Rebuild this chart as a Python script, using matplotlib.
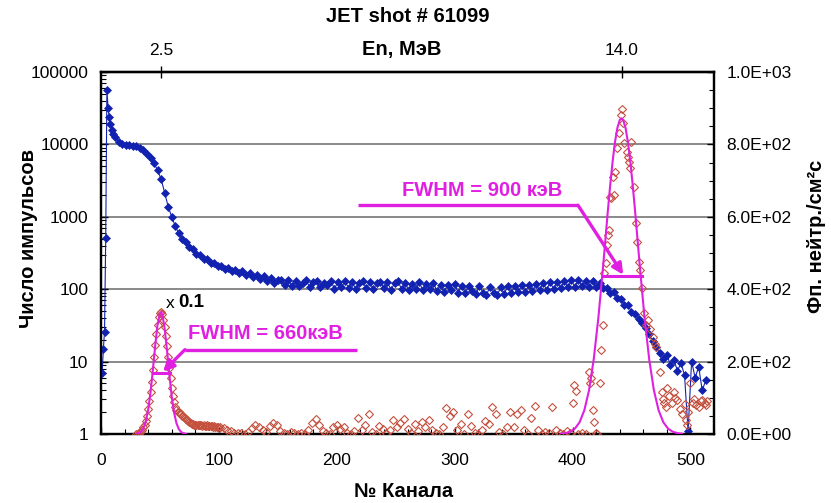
import numpy as np
import matplotlib
matplotlib.use("Agg")
import matplotlib.pyplot as plt
from matplotlib.ticker import FixedLocator, MultipleLocator, NullFormatter, LogLocator
from matplotlib.patches import FancyArrowPatch

plt.rcParams['font.family'] = ['Liberation Sans', 'DejaVu Sans']

# ---------------- data ----------------
# pulse-height spectrum (counts per channel), left log axis
blue_head_ch = [1, 2, 3, 4, 5, 6, 7, 8, 9, 10]
blue_head_val = [7, 15, 26, 510, 57000, 32000, 24000, 19000, 16000, 14000]

blue_body_start = 12
blue_body_step = 3
blue_body_val = [
    # ch 12-39
    12500, 10900, 10200, 9900, 9700, 9600, 9400, 9000, 8400, 7400,
    # ch 42-69
    6400, 5500, 4400, 3300, 2150, 1380, 1000, 740, 590, 500,
    # ch 72-99
    445, 385, 360, 310, 300, 258, 258, 228, 232, 208,
    # ch 102-129
    212, 190, 198, 178, 186, 166, 178, 157, 165, 148,
    # ch 132-150
    156, 139, 150, 130, 141, 122, 133,
    # ch 153-180
    136, 114, 132, 110, 130, 112, 121, 132, 108, 124,
    # ch 183-210
    128, 106, 123, 113, 130, 102, 125, 108, 128, 104,
    # ch 213-240
    126, 101, 122, 130, 104, 124, 100, 121, 127, 103,
    # ch 243-270
    124, 98, 120, 128, 100, 122, 97, 119, 102, 125,
    # ch 273-300
    96, 118, 100, 122, 94, 116, 92, 114, 96, 118,
    # ch 303-330
    90, 112, 89, 111, 95, 86, 110, 90, 84, 108,
    # ch 333-360
    88, 82, 106, 86, 110, 88, 112, 91, 114, 92,
    # ch 363-390
    115, 94, 118, 97, 121, 99, 124, 101, 127, 104,
    # ch 393-420
    130, 106, 132, 108, 134, 110, 131, 108, 128, 106,
    # ch 423-450
    122, 104, 103, 90, 92, 76, 74, 60, 60, 49,
    # ch 453-480
    45, 39, 34, 29, 24, 19, 16, 13, 11, 12.5,
    # ch 483-510
    9, 10.5, 7.5, 9.5, 6.5, 1.1, 10, 6, 8.5, 4,
    # ch 513
    5.5,
]

# neutron flux spectrum, right linear axis
red_left_start = 30
red_left_val = [
    0, 1, 3, 5, 8, 12, 18, 26, 36, 50,            # ch 30-39
    68, 90, 115, 145, 178, 212, 245, 275, 302, 322,  # ch 40-49
    335, 338, 332, 316, 296, 270, 242, 212, 182, 155,  # ch 50-59
    128, 106, 88, 75, 66, 62, 60, 57, 54, 50,     # ch 60-69
    47, 44, 42, 40, 37, 34, 31, 29, 27, 26,       # ch 70-79
    25, 24, 25, 26, 24, 25, 23, 24, 22, 23,       # ch 80-89
    24, 22, 23, 21, 22, 20, 21, 19, 18, 19,       # ch 90-99
    17,                                           # ch 100
]

red_mid_start = 101
red_mid_step = 3
red_mid_val = [
    18, 17, 12, 8, 4, 2, 3, 1, 6, 16,        # ch 101-128
    24, 20, 12, 6, 22, 30, 24, 8, 3, 0,      # ch 131-158
    5, 2, 0, 4, 1, 10, 30, 42, 25, 8,        # ch 161-188
    2, 0, 18, 25, 14, 20, 3, 0, 8, 44,       # ch 191-218
    12, 26, 55, 5, 0, 22, 14, 2, 10, 38,     # ch 221-248
    18, 30, 42, 15, 3, 28, 8, 34, 20, 40,    # ch 251-278
    12, 2, 0, 18, 72, 50, 62, 10, 28, 0,     # ch 281-308
    55, 22, 4, 0, 12, 36, 28, 75, 55, 6,     # ch 311-338
    0, 20, 62, 18, 55, 66, 12, 0, 45, 76,    # ch 341-368
    10, 0, 5, 2, 74, 12, 3, 0, 8, 2,         # ch 371-398
]

red_right_ch = [400, 401, 403, 405, 408, 411, 414, 415, 416, 417, 418, 420, 421,
                423, 424, 426, 427, 428, 429, 430, 431, 432, 433, 434, 435, 436,
                438, 439, 441, 442, 443, 444, 446, 447, 448, 449, 450, 452, 454,
                455, 456, 457, 459, 461, 462, 464, 466, 468, 470, 471, 474, 476,
                477, 478, 479, 480, 482, 484, 486, 487, 489, 491, 493, 495, 496,
                497, 498, 500, 502, 503, 505, 507, 509, 510, 512, 513, 514]
red_right_val = [87, 134, 120, 0, 4, 0, 170, 140, 156, 65, 32, 2, 0,
                 140, 231, 300, 445, 472, 521, 549, 563, 656, 651, 710, 660, 724,
                 790, 831, 881, 897, 860, 803, 780, 766, 752, 734, 807, 683, 582,
                 531, 475, 452, 402, 334, 300, 314, 290, 268, 250, 240, 171, 116,
                 98, 86, 74, 126, 105, 87, 117, 100, 93, 70, 55, 84, 40,
                 24, 60, 140, 85, 98, 80, 74, 90, 93, 85, 79, 92]

# fitted peak profiles (flux units)
fit_25_ch = [30, 32, 34, 36, 38, 40, 42, 44, 46, 48, 50, 51, 52, 54, 56, 58,
             60, 62, 64, 66, 68, 70, 72]
fit_25_val = [0.5, 2.5, 6.7, 16, 34.5, 66.7, 115, 177, 245, 302, 334, 337, 330,
              292, 231, 164, 104, 59, 30, 13.6, 5.5, 2, 0.6]
fit_14_ch = [390, 394, 398, 402, 406, 410, 414, 418, 422, 426, 428, 430, 432,
             434, 436, 438, 440, 441.5, 443, 445, 447, 449, 451, 453, 455, 457,
             461, 465, 469, 473, 477, 481, 485, 489, 493]
fit_14_val = [0.5, 2.4, 6.3, 14.9, 32.6, 65.6, 121, 207, 324, 466, 542, 618, 689,
              753, 806, 845, 867, 872, 867, 845, 806, 753, 689, 618, 542, 466,
              324, 207, 121, 65.6, 32.6, 14.9, 6.3, 2.4, 0.5]

# half-maximum widths (channel edges) of the two peaks
fwhm_25_edges = [44.4, 58.5]
fwhm_14_edges = [425.5, 458.5]
peak_25 = 337
peak_14 = 872

# energy calibration points for the top axis
cal_ch = [51, 442]
cal_mev = [2.5, 14.0]

count_ticks = [1, 10, 100, 1000, 10000, 100000]
count_labels = ['1', '10', '100', '1000', '10000', '100000']
flux_ticks = [0, 200, 400, 600, 800, 1000]
channel_ticks = [0, 100, 200, 300, 400, 500]

# ---------------- figure ----------------
BLUE = '#1222b0'
RED = '#c4503e'
MAG = '#e020e0'

fig = plt.figure(figsize=(8.31, 5.03), dpi=100)
ax = fig.add_axes([101 / 831, 1 - 434 / 503, 613 / 831, 362 / 503])

blue_ch = list(blue_head_ch) + list(blue_body_start + blue_body_step * np.arange(len(blue_body_val)))
blue_val = list(blue_head_val) + list(blue_body_val)

ax.set_yscale('log')
ax.set_xlim(0, 520)
ax.set_ylim(1, 1e5)
ax.plot(blue_ch, blue_val, color=BLUE, lw=0.8, marker='D', ms=4.4,
        mfc=BLUE, mec=BLUE, mew=0.5, zorder=3)

ax.yaxis.set_major_locator(FixedLocator(count_ticks))
ax.set_yticklabels(count_labels)
ax.yaxis.set_minor_locator(LogLocator(base=10, subs=np.arange(2, 10)))
ax.yaxis.set_minor_formatter(NullFormatter())
ax.xaxis.set_major_locator(FixedLocator(channel_ticks))
ax.xaxis.set_minor_locator(MultipleLocator(20))
ax.grid(axis='y', which='major', color='#808080', lw=1.3)
ax.set_axisbelow(True)
ax.tick_params(which='both', direction='in', labelsize=12.5, top=False, right=False)
ax.tick_params(which='major', length=5, width=1)
ax.tick_params(which='minor', length=3.5, width=0.8)
ax.tick_params(axis='y', pad=9)
ax.tick_params(axis='x', pad=14)
for s in ax.spines.values():
    s.set_linewidth(1.6)

ax.set_xlabel('№ Канала', fontsize=14.5, fontweight='bold')
ax.xaxis.set_label_coords(0.494, -0.160)
ax.xaxis.label.set_verticalalignment('center')
ax.set_ylabel('Число импульсов', fontsize=14.5, fontweight='bold')
ax.yaxis.set_label_coords(-0.119, 0.541)
ax.yaxis.label.set_verticalalignment('center')

# right axis: flux
axr = ax.twinx()
axr.set_ylim(0, 1000)
axr.yaxis.set_major_locator(FixedLocator(flux_ticks))
axr.set_yticklabels(['{:.1E}'.format(v) for v in flux_ticks])
axr.yaxis.set_minor_locator(MultipleLocator(50))
axr.tick_params(which='both', direction='in', labelsize=12.5, pad=9)
axr.tick_params(which='major', length=5, width=1)
axr.tick_params(which='minor', length=3.5, width=0.8)
for s in axr.spines.values():
    s.set_linewidth(1.6)
axr.set_ylabel('Фп. нейтр./см²c', fontsize=14.5, fontweight='bold', rotation=90)
axr.yaxis.set_label_coords(1.1675, 0.546)
axr.yaxis.label.set_verticalalignment('center')

red_ch = (list(red_left_start + np.arange(len(red_left_val)))
          + list(red_mid_start + red_mid_step * np.arange(len(red_mid_val)))
          + list(red_right_ch))
red_val = list(red_left_val) + list(red_mid_val) + list(red_right_val)
axr.plot(red_ch, red_val, ls='none', marker='D', ms=4.4, mfc='none', mec=RED, mew=0.8, zorder=3)

axr.plot(fit_25_ch, fit_25_val, color=MAG, lw=1.5, zorder=4)
axr.plot(fit_14_ch, fit_14_val, color=MAG, lw=1.5, zorder=4)
axr.plot(fwhm_25_edges, [peak_25 / 2] * 2, color=MAG, lw=2.2, zorder=5)
axr.plot(fwhm_14_edges, [peak_14 / 2] * 2, color=MAG, lw=2.2, zorder=5)

# FWHM annotations
axr.text(73.8, 278, 'FWHM = 660кэВ', color=MAG, fontsize=14.5, fontweight='bold',
         ha='left', va='center')
axr.plot([217, 71.2], [233, 233], color=MAG, lw=2.4, solid_capstyle='butt')
axr.add_patch(FancyArrowPatch((71.2, 233), (52.6, peak_25 / 2 + 4), arrowstyle='-|>',
                              mutation_scale=16, lw=2.4, color=MAG, shrinkA=0, shrinkB=0,
                              zorder=6))
axr.text(255.3, 674, 'FWHM = 900 кэВ', color=MAG, fontsize=14.5, fontweight='bold',
         ha='left', va='center')
axr.plot([218, 404.6], [632, 632], color=MAG, lw=2.4, solid_capstyle='butt')
axr.add_patch(FancyArrowPatch((404.6, 632), (443, peak_14 / 2 + 4), arrowstyle='-|>',
                              mutation_scale=16, lw=2.4, color=MAG, shrinkA=0, shrinkB=0,
                              zorder=6))

axr.text(55.1, 361, 'x', fontsize=12.5, ha='left', va='center')
axr.text(65.3, 363, '0.1', fontsize=13.5, fontweight='bold', ha='left', va='center')

# top axis: neutron energy
def ch_to_mev(c):
    return cal_mev[0] + (np.asarray(c) - cal_ch[0]) * (cal_mev[1] - cal_mev[0]) / (cal_ch[1] - cal_ch[0])


def mev_to_ch(e):
    return cal_ch[0] + (np.asarray(e) - cal_mev[0]) * (cal_ch[1] - cal_ch[0]) / (cal_mev[1] - cal_mev[0])


sec = ax.secondary_xaxis('top', functions=(ch_to_mev, mev_to_ch))
sec.xaxis.set_major_locator(FixedLocator(cal_mev))
sec.set_xticklabels(['{:.1f}'.format(v) for v in cal_mev])
sec.xaxis.set_minor_locator(FixedLocator([]))
sec.tick_params(direction='inout', length=8, width=1, labelsize=12.5, pad=6)
sec.spines['top'].set_linewidth(1.6)
sec.set_xlabel('En, МэВ', fontsize=14.5, fontweight='bold')
sec.xaxis.set_label_coords(0.491, 1.0635, transform=ax.transAxes)
sec.xaxis.label.set_verticalalignment('center')

fig.text(407.5 / 831, 1 - 16 / 503, 'JET shot # 61099', ha='center', va='center',
         fontsize=14.5, fontweight='bold')

fig.savefig('out.png', dpi=100)
